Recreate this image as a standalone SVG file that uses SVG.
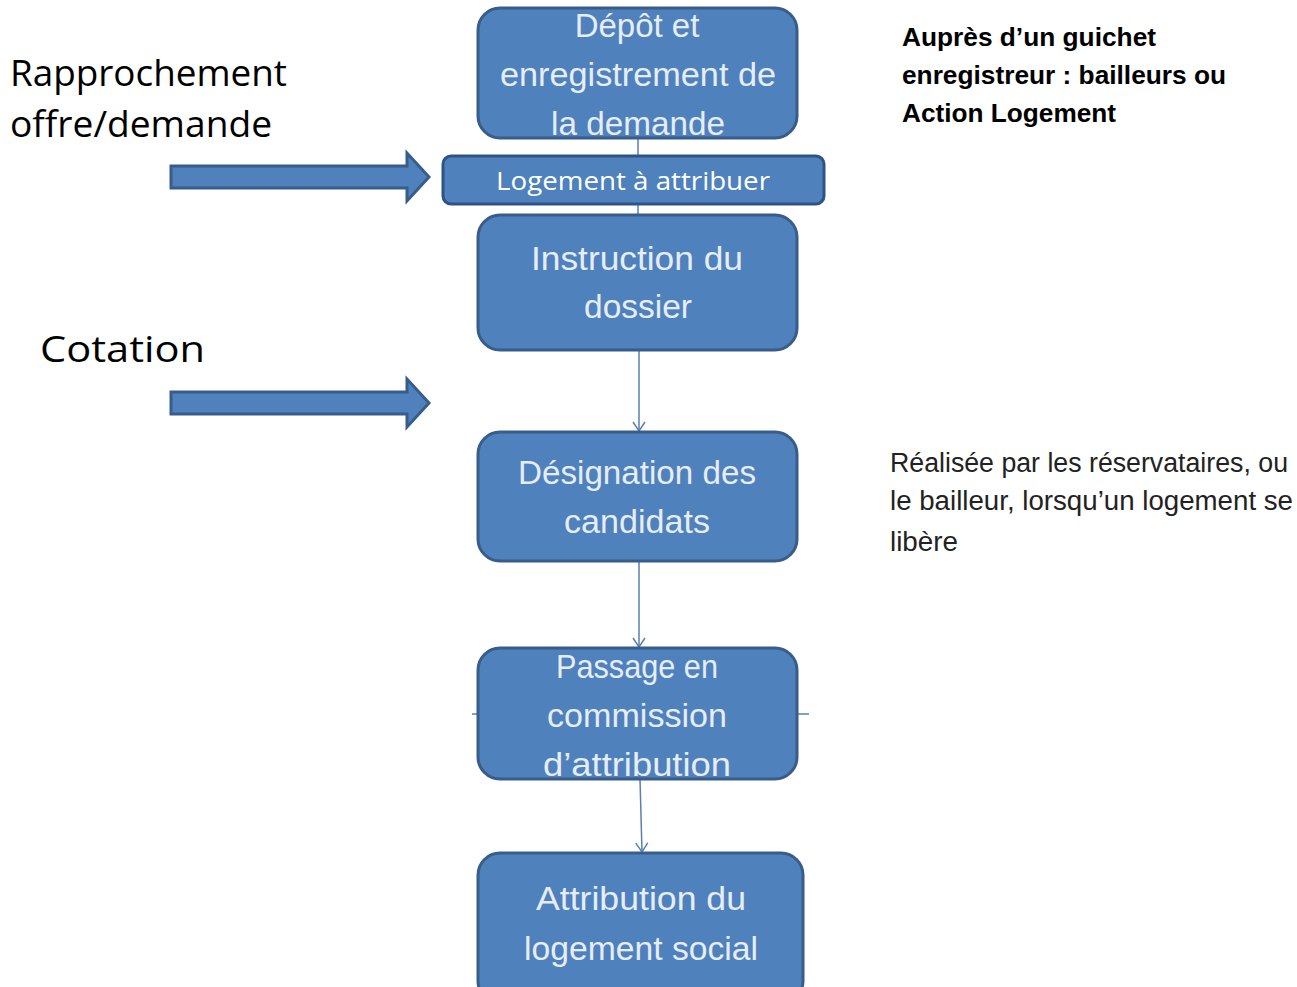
<svg xmlns="http://www.w3.org/2000/svg" width="1297" height="987" viewBox="0 0 1297 987">
<defs>
<style>
.box{fill:#4f81bd;stroke:#385d8a;stroke-width:3}
.bt{fill:#e6edf7;font-family:"Liberation Sans",Arial,sans-serif;font-size:33px;text-anchor:middle}
.lbl{fill:#000;font-family:"Open Sans","Liberation Sans",sans-serif;font-size:37px}
.rb{fill:#000;font-family:"Liberation Sans",Arial,sans-serif;font-size:26px;font-weight:bold}
.rn{fill:#222;font-family:"Liberation Sans",Arial,sans-serif;font-size:27px}
.con{stroke:#5a7fb0;stroke-width:1.5;fill:none}
.blk{fill:#4f81bd;stroke:#385d8a;stroke-width:3}
</style>
<marker id="ah" markerWidth="14" markerHeight="14" refX="12" refY="7" orient="auto" markerUnits="userSpaceOnUse" viewBox="0 0 14 14">
<path d="M3,1 L12,7 L3,13" fill="none" stroke="#5a7fb0" stroke-width="1.5"/>
</marker>
</defs>
<rect width="1297" height="987" fill="#fff"/>
<g id="connectors">
<line class="con" x1="638" y1="138" x2="638" y2="215"/>
<line class="con" x1="639" y1="350" x2="639" y2="431" marker-end="url(#ah)"/>
<line class="con" x1="639" y1="561" x2="639" y2="647" marker-end="url(#ah)"/>
<line class="con" x1="640" y1="779" x2="642" y2="852" marker-end="url(#ah)"/>
<line class="con" x1="472" y1="714" x2="480" y2="714"/>
<line class="con" x1="795" y1="714" x2="809" y2="714"/>
</g>
<g id="arrow1">
<path class="blk" d="M171,166 L407,166 L407,153 L429,177 L407,201 L407,188 L171,188 Z"/>
</g>
<g id="arrow2">
<path class="blk" d="M171,392 L407,392 L407,379 L429,403 L407,427 L407,414 L171,414 Z"/>
</g>
<g id="n1">
<rect class="box" x="478" y="8" width="319" height="130" rx="22"/>
<text class="bt" x="637" y="37">Dépôt et</text>
<text class="bt" x="638" y="86" textLength="276" lengthAdjust="spacingAndGlyphs">enregistrement de</text>
<text class="bt" x="638" y="135" textLength="174" lengthAdjust="spacingAndGlyphs">la demande</text>
</g>
<g id="n2">
<rect x="443" y="156" width="381" height="48" rx="8" fill="#4f81bd" stroke="#2f5386" stroke-width="3"/>
<text x="633" y="190" fill="#fff" font-family="'Open Sans','Liberation Sans',sans-serif" font-size="26" text-anchor="middle" textLength="274" lengthAdjust="spacingAndGlyphs">Logement à attribuer</text>
</g>
<g id="n3">
<rect class="box" x="478" y="215" width="319" height="135" rx="22"/>
<text class="bt" x="637" y="270" textLength="212" lengthAdjust="spacingAndGlyphs">Instruction du</text>
<text class="bt" x="638" y="318" textLength="108" lengthAdjust="spacingAndGlyphs">dossier</text>
</g>
<g id="n4">
<rect class="box" x="478" y="432" width="319" height="129" rx="22"/>
<text class="bt" x="637" y="484" textLength="238" lengthAdjust="spacingAndGlyphs">Désignation des</text>
<text class="bt" x="637" y="533" textLength="146" lengthAdjust="spacingAndGlyphs">candidats</text>
</g>
<g id="n5">
<rect class="box" x="478" y="648" width="319" height="131" rx="22"/>
<text class="bt" x="637" y="678" textLength="162" lengthAdjust="spacingAndGlyphs">Passage en</text>
<text class="bt" x="637" y="727" textLength="180" lengthAdjust="spacingAndGlyphs">commission</text>
<text class="bt" x="637" y="776" textLength="188" lengthAdjust="spacingAndGlyphs">d’attribution</text>
</g>
<g id="n6">
<rect class="box" x="478" y="853" width="325" height="150" rx="22"/>
<text class="bt" x="641" y="910" textLength="210" lengthAdjust="spacingAndGlyphs">Attribution du</text>
<text class="bt" x="641" y="960" textLength="234" lengthAdjust="spacingAndGlyphs">logement social</text>
</g>
<g id="labels">
<text class="lbl" x="10" y="86" textLength="277" lengthAdjust="spacingAndGlyphs">Rapprochement</text>
<text class="lbl" x="10" y="137" textLength="262" lengthAdjust="spacingAndGlyphs">offre/demande</text>
<text class="lbl" x="40" y="362" textLength="165" lengthAdjust="spacingAndGlyphs">Cotation</text>
<text class="rb" x="902" y="46" textLength="254" lengthAdjust="spacingAndGlyphs">Auprès d’un guichet</text>
<text class="rb" x="902" y="84" textLength="324" lengthAdjust="spacingAndGlyphs">enregistreur : bailleurs ou</text>
<text class="rb" x="902" y="122" textLength="214" lengthAdjust="spacingAndGlyphs">Action Logement</text>
<text class="rn" x="890" y="472" textLength="398" lengthAdjust="spacingAndGlyphs">Réalisée par les réservataires, ou</text>
<text class="rn" x="890" y="510" textLength="403" lengthAdjust="spacingAndGlyphs">le bailleur, lorsqu’un logement se</text>
<text class="rn" x="890" y="551" textLength="68" lengthAdjust="spacingAndGlyphs">libère</text>
</g>
</svg>
